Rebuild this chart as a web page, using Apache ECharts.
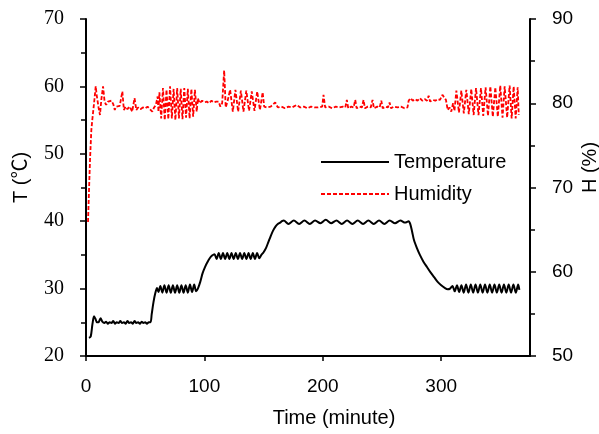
<!DOCTYPE html>
<html><head><meta charset="utf-8">
<script src="https://cdn.jsdelivr.net/npm/echarts@6/dist/echarts.min.js"></script>
<style>html,body{margin:0;padding:0;background:#fff}#c{width:599px;height:434px}</style>
</head><body><div id="c"></div>
<script>
// Time (minute), Temperature (°C)
var tempData = [
[2.5,22.7],[4,22.9],[5.5,24.8],[6.8,25.9],[8,25.5],[9.2,25.0],[10.5,25.0],[12.3,25.6],[13.8,25.1],[15.5,24.9],
[17,25.1],[18.5,24.8],[20,25.0],[21.5,24.9],[23,25.2],[24.5,24.8],[26,25.0],[27.5,24.9],[29,25.2],[30.5,24.9],
[32,25.0],[33.5,24.8],[35,25.2],[36.5,24.9],[38,25.0],[39.5,24.8],[41,25.2],[42.5,24.9],[44,25.0],[45.5,24.8],
[47,25.1],[48.5,24.9],[50,25.0],[51.5,24.8],[53,25.0],[54.5,25.0],[55.5,26.2],[57,28.0],[58.5,29.3],[60,30.1],
[61.2,29.5],[62.8,30.4],[64.5,29.4],[66.2,30.5],[68,29.4],[69.8,30.5],[71.6,29.4],[73.4,30.5],[75.2,29.4],[77,30.5],
[78.8,29.4],[80.6,30.5],[82.4,29.4],[84.2,30.5],[86,29.4],[87.8,30.6],[89.6,29.5],[91.4,30.6],[93,29.6],[94.5,30.0],
[96.5,31.0],[98.5,32.3],[100.5,33.2],[102.5,33.9],[104.5,34.5],[106.5,34.9],[108.5,35.1],
[110.3,34.4],[112.1,35.3],[113.9,34.4],[115.7,35.3],[117.5,34.4],[119.3,35.3],[121.1,34.4],[122.9,35.3],[124.7,34.4],
[126.5,35.3],[128.3,34.4],[130.1,35.3],[131.9,34.4],[133.7,35.3],[135.5,34.4],[137.3,35.3],[139.1,34.4],[140.9,35.3],
[142.7,34.4],[144.5,35.3],[146.3,34.5],[148.1,35.0],[150,35.4],[152,36.0],[154,36.9],[156,37.8],[158,38.6],[160,39.2],
[162,39.6],[164,39.8],[165.5,40.0],
[167,40.1],[171,39.6],[175.5,40.1],[180,39.6],[184.5,40.1],[189,39.6],[193.5,40.1],[198,39.7],[202.5,40.2],[207,39.7],
[211.5,40.1],[216,39.6],[220.5,40.1],[225,39.6],[229.5,40.1],[234,39.6],[238.5,40.1],[243,39.6],[247.5,40.1],[252,39.6],
[256.5,40.1],[261,39.7],[265.5,40.1],[269.5,39.8],[272.5,40.0],
[274,39.5],[275.5,38.4],[277,37.2],[279.5,36.0],[282,35.0],[285,34.0],[288,33.2],[291,32.4],[294,31.7],[297,31.0],
[300,30.5],[303,30.1],[305.5,29.9],[307.5,30.0],
[309.5,30.4],[311.4,29.6],[313.3,30.5],[315.2,29.5],[317.1,30.5],[319,29.4],[321,30.6],[323,29.4],[325,30.6],[327,29.4],
[329,30.6],[331,29.4],[333,30.6],[335,29.4],[337,30.6],[339,29.4],[341,30.6],[343,29.4],[345,30.6],[347,29.4],
[349,30.6],[351,29.4],[353,30.6],[355,29.4],[357,30.6],[359,29.4],[361,30.6],[363,29.4],[365,30.6],[366,29.8]
];
// Time (minute), Humidity (%)
var humData = [
[1.7,65.9],[2.5,69.5],[3.4,73.3],[4.5,76.8],[5.3,78.0],[5.9,77.8],[6.8,80.0],[8.2,82.0],[9,81.0],[9.6,80.8],
[10.6,79.5],[11.8,78.6],[13,80.5],[14.4,82.0],[15.7,80.2],[17,79.8],[18.5,80.2],[20,80.0],[21.5,80.3],[23,79.9],
[24.3,79.2],[25.5,79.6],[27,79.4],[28.5,79.7],[30.7,81.4],[32,79.2],[33.5,79.6],[35,79.3],[37,79.6],[39,79.0],
[41,80.6],[42.5,79.2],[44,79.5],[46,79.3],[48,79.5],[50,79.4],[52,79.6],[54,79.3],[56,79.0],[57.5,79.5],
[59,79.8],[60.5,80.8],[61.2,79.0],[62,81.3],[63.5,78.2],[65,81.8],[66.5,78.0],[68,81.6],[69.5,78.1],[71,82.0],
[72.5,78.2],[74,81.7],[75.5,78.0],[77,81.8],[78.5,78.2],[80,81.7],[81.5,78.1],[83,81.8],[84.5,78.3],[86,81.7],
[87.5,78.2],[89,81.7],[90.5,78.4],[92,81.6],[93.5,79.0],[94.5,80.6],[96,80.0],[98,80.3],[100,80.1],[102,80.2],
[104,80.0],[106,80.3],[108,80.1],[110,80.2],[112,80.2],[113.5,79.6],[115,80.0],[116.7,83.9],[118,79.5],[119.5,80.2],
[121.7,81.6],[124,79.0],[126.2,81.6],[128.5,79.0],[130.8,81.5],[133,79.0],[135.4,81.5],[137.7,79.1],[140,81.4],[142.3,79.1],
[144.6,81.4],[146.9,79.2],[149.2,81.3],[150.5,79.6],[153,79.5],[156,79.6],[159.8,80.1],[162,79.5],[165,79.6],[168,79.4],
[171,79.6],[174,79.5],[178,79.8],[181,79.5],[184,79.6],[187,79.4],[190,79.6],[193,79.5],[196,79.5],[199.5,79.6],
[200.6,81.0],[202,79.5],[205,79.6],[208,79.4],[211,79.6],[214,79.5],[217,79.6],[219,79.5],[220.3,80.4],[221.5,79.4],
[224,79.6],[226,79.5],[227.4,80.4],[228.6,79.4],[231,79.6],[233,79.5],[234.4,80.4],[235.6,79.4],[238,79.6],[240.5,79.5],
[242,80.4],[243.2,79.4],[246,79.6],[248,79.5],[249.4,80.3],[250.6,79.4],[253,79.6],[255,79.5],[256.4,80.1],[257.6,79.4],
[260,79.6],[263,79.5],[266,79.6],[269,79.4],[271.5,79.5],[272.5,80.3],[274,80.6],[276,80.3],[278,80.5],[280,80.3],
[282,80.6],[284,80.3],[286,80.5],[288,80.3],[289.4,80.9],[290.6,80.2],[293,80.4],[295,80.3],[297,80.5],[299,80.4],
[301,81.0],[302.5,81.2],[304,80.4],[305.5,79.2],[307,79.5],[308.5,79.0],[310,80.0],[311.2,79.1],
[312.8,81.5],[315,78.9],[317,81.5],[319.1,78.8],[321.2,81.6],[323.3,78.7],[325.4,81.7],[327.4,78.6],[329.4,81.8],[331.5,78.6],
[333.6,81.8],[335.5,78.5],[337.5,81.9],[339.5,78.5],[341.5,82.0],[343.6,78.4],[345.7,81.9],[347.8,78.4],[349.9,82.1],[351.8,78.3],
[353.6,82.0],[355.7,78.3],[357.8,82.1],[359.5,78.2],[361.2,82.0],[362.9,78.2],[364.6,81.9],[365.5,78.6]
];
var xTicks = [0, 100, 200, 300];
var tTicks = [20, 30, 40, 50, 60, 70];
var hTicks = [50, 60, 70, 80, 90];

var sans = 'Arial, "Liberation Sans", sans-serif';
var serif = '"Times New Roman", "Liberation Serif", serif';
var chart = echarts.init(document.getElementById('c'), null, {renderer: 'canvas'});
var axisLineStyle = {show: true, lineStyle: {color: '#000', width: 2}};
chart.setOption({
  animation: false,
  backgroundColor: '#fff',
  grid: {left: 86, right: 69, top: 19, bottom: 78, containLabel: false, outerBoundsMode: 'none'},
  legend: {
    left: 315, top: 147, orient: 'vertical',
    itemWidth: 68, itemHeight: 20, itemGap: 12,
    itemStyle: {opacity: 0},
    textStyle: {fontFamily: sans, fontSize: 20, color: '#000'},
    data: ['Temperature', 'Humidity']
  },
  xAxis: {
    type: 'value', min: 0, max: 375, interval: 100,
    name: 'Time (minute)', nameLocation: 'middle', nameGap: 52, nameMoveOverlap: false,
    nameTextStyle: {fontFamily: sans, fontSize: 20, color: '#000', padding: [0, 0, 0, 52]},
    axisLine: axisLineStyle,
    axisTick: {show: true, inside: false, length: 5, lineStyle: {color: '#000', width: 1.5}, customValues: xTicks},
    axisLabel: {fontFamily: sans, fontSize: 19, color: '#000', margin: 21, customValues: xTicks},
    splitLine: {show: false}
  },
  yAxis: [{
    type: 'value', min: tTicks[0], max: tTicks[tTicks.length - 1], interval: 10, position: 'left',
    name: 'T (℃)', nameLocation: 'middle', nameGap: 55, nameRotate: 90, nameMoveOverlap: false,
    nameTextStyle: {fontFamily: sans + ', "Noto Sans CJK SC"', fontSize: 20, color: '#000', padding: [0, 0, 0, 20]},
    axisLine: axisLineStyle,
    axisTick: {show: true, inside: false, length: 6, lineStyle: {color: '#000', width: 1.5}},
    minorTick: {show: true, splitNumber: 2, length: 5, lineStyle: {color: '#000', width: 1.5}},
    axisLabel: {fontFamily: serif, fontSize: 20, color: '#000', margin: 22},
    splitLine: {show: false}
  }, {
    type: 'value', min: hTicks[0], max: hTicks[hTicks.length - 1], interval: 10, position: 'right',
    name: 'H (%)', nameLocation: 'middle', nameGap: 50, nameRotate: 90, nameMoveOverlap: false,
    nameTextStyle: {fontFamily: sans, fontSize: 20, color: '#000', padding: [0, 0, 0, 40]},
    axisLine: axisLineStyle,
    axisTick: {show: true, inside: false, length: 6, lineStyle: {color: '#000', width: 1.5}},
    minorTick: {show: true, splitNumber: 2, length: 5, lineStyle: {color: '#000', width: 1.5}},
    axisLabel: {fontFamily: sans, fontSize: 19, color: '#000', margin: 22},
    splitLine: {show: false}
  }],
  series: [{
    name: 'Temperature', type: 'line', yAxisIndex: 0, data: tempData,
    symbol: 'none', smooth: 0.3, color: '#000',
    lineStyle: {color: '#000', width: 2}
  }, {
    name: 'Humidity', type: 'line', yAxisIndex: 1, data: humData,
    symbol: 'none', smooth: false, color: '#ff0000',
    lineStyle: {color: '#ff0000', width: 1.8, type: [4, 2]}
  }]
});
</script></body></html>
